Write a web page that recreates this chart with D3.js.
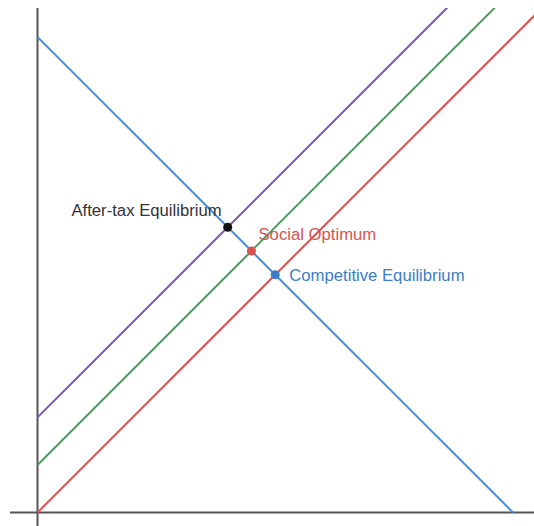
<!DOCTYPE html>
<html>
<head>
<meta charset="utf-8">
<script src="https://cdn.jsdelivr.net/npm/d3@7"></script>
<style>
  html, body { margin: 0; padding: 0; background: #fff; }
  svg { display: block; }
  text { font-family: "Liberation Sans", Arial, sans-serif; font-size: 16.7px; }
</style>
</head>
<body>
<div id="chart"></div>
<script>
const WIDTH = 534;
const HEIGHT = 526;

// curves as [quantity, price] endpoints
const demand = [[0, 10], [10, 0]];
const supplyNames = ["supply", "supply + externality", "supply + tax"];
const supplyIntercepts = [0, 1, 2];
const supplyColors = ["#d9534f", "#4d9a5c", "#7b52b5"];

// equilibrium points
const pointNames = ["Competitive Equilibrium", "Social Optimum", "After-tax Equilibrium"];
const pointQ = [5, 4.5, 4];
const pointP = [5, 5.5, 6];
const pointColors = ["#3c7dc9", "#d9534f", "#111111"];
const labelColors = ["#3c7dc9", "#d9534f", "#333333"];

var xScale = d3.scaleLinear().domain([0, 10]).range([37.5, 513]);
var yScale = d3.scaleLinear().domain([0, 10]).range([512.5, 37]);

var svg = d3.select('#chart').append('svg')
  .attr('width', WIDTH)
  .attr('height', HEIGHT);

svg.append('clipPath').attr('id', 'plot')
  .append('rect')
  .attr('x', 0).attr('y', 8)
  .attr('width', WIDTH).attr('height', HEIGHT - 8);

// axes
svg.append('line')
  .attr('x1', xScale(0)).attr('x2', xScale(0))
  .attr('y1', 8).attr('y2', HEIGHT)
  .attr('stroke', '#555').attr('stroke-width', 2);
svg.append('line')
  .attr('x1', 10).attr('x2', WIDTH)
  .attr('y1', yScale(0)).attr('y2', yScale(0))
  .attr('stroke', '#555').attr('stroke-width', 2);

var line = d3.line()
  .x(function(d){ return xScale(d[0]); })
  .y(function(d){ return yScale(d[1]); });

var g = svg.append('g').attr('clip-path', 'url(#plot)');

supplyIntercepts.forEach(function(b, i){
  g.append('path')
    .attr('d', line([[0, b], [12, b + 12]]))
    .attr('fill', 'none')
    .attr('stroke', supplyColors[i])
    .attr('stroke-width', 2);
});

g.append('path')
  .attr('d', line(demand))
  .attr('fill', 'none')
  .attr('stroke', '#4a8fd6')
  .attr('stroke-width', 2);

// points
pointQ.forEach(function(q, i){
  svg.append('circle')
    .attr('cx', xScale(q))
    .attr('cy', yScale(pointP[i]))
    .attr('r', 4.5)
    .attr('fill', pointColors[i]);
});

// labels
var labelDx = [14, 7, -6];
var labelDy = [6, -11, -11];
var anchors = ['start', 'start', 'end'];
pointQ.forEach(function(q, i){
  svg.append('text')
    .attr('x', xScale(q) + labelDx[i])
    .attr('y', yScale(pointP[i]) + labelDy[i])
    .attr('text-anchor', anchors[i])
    .attr('fill', labelColors[i])
    .text(pointNames[i]);
});
</script>
</body>
</html>
